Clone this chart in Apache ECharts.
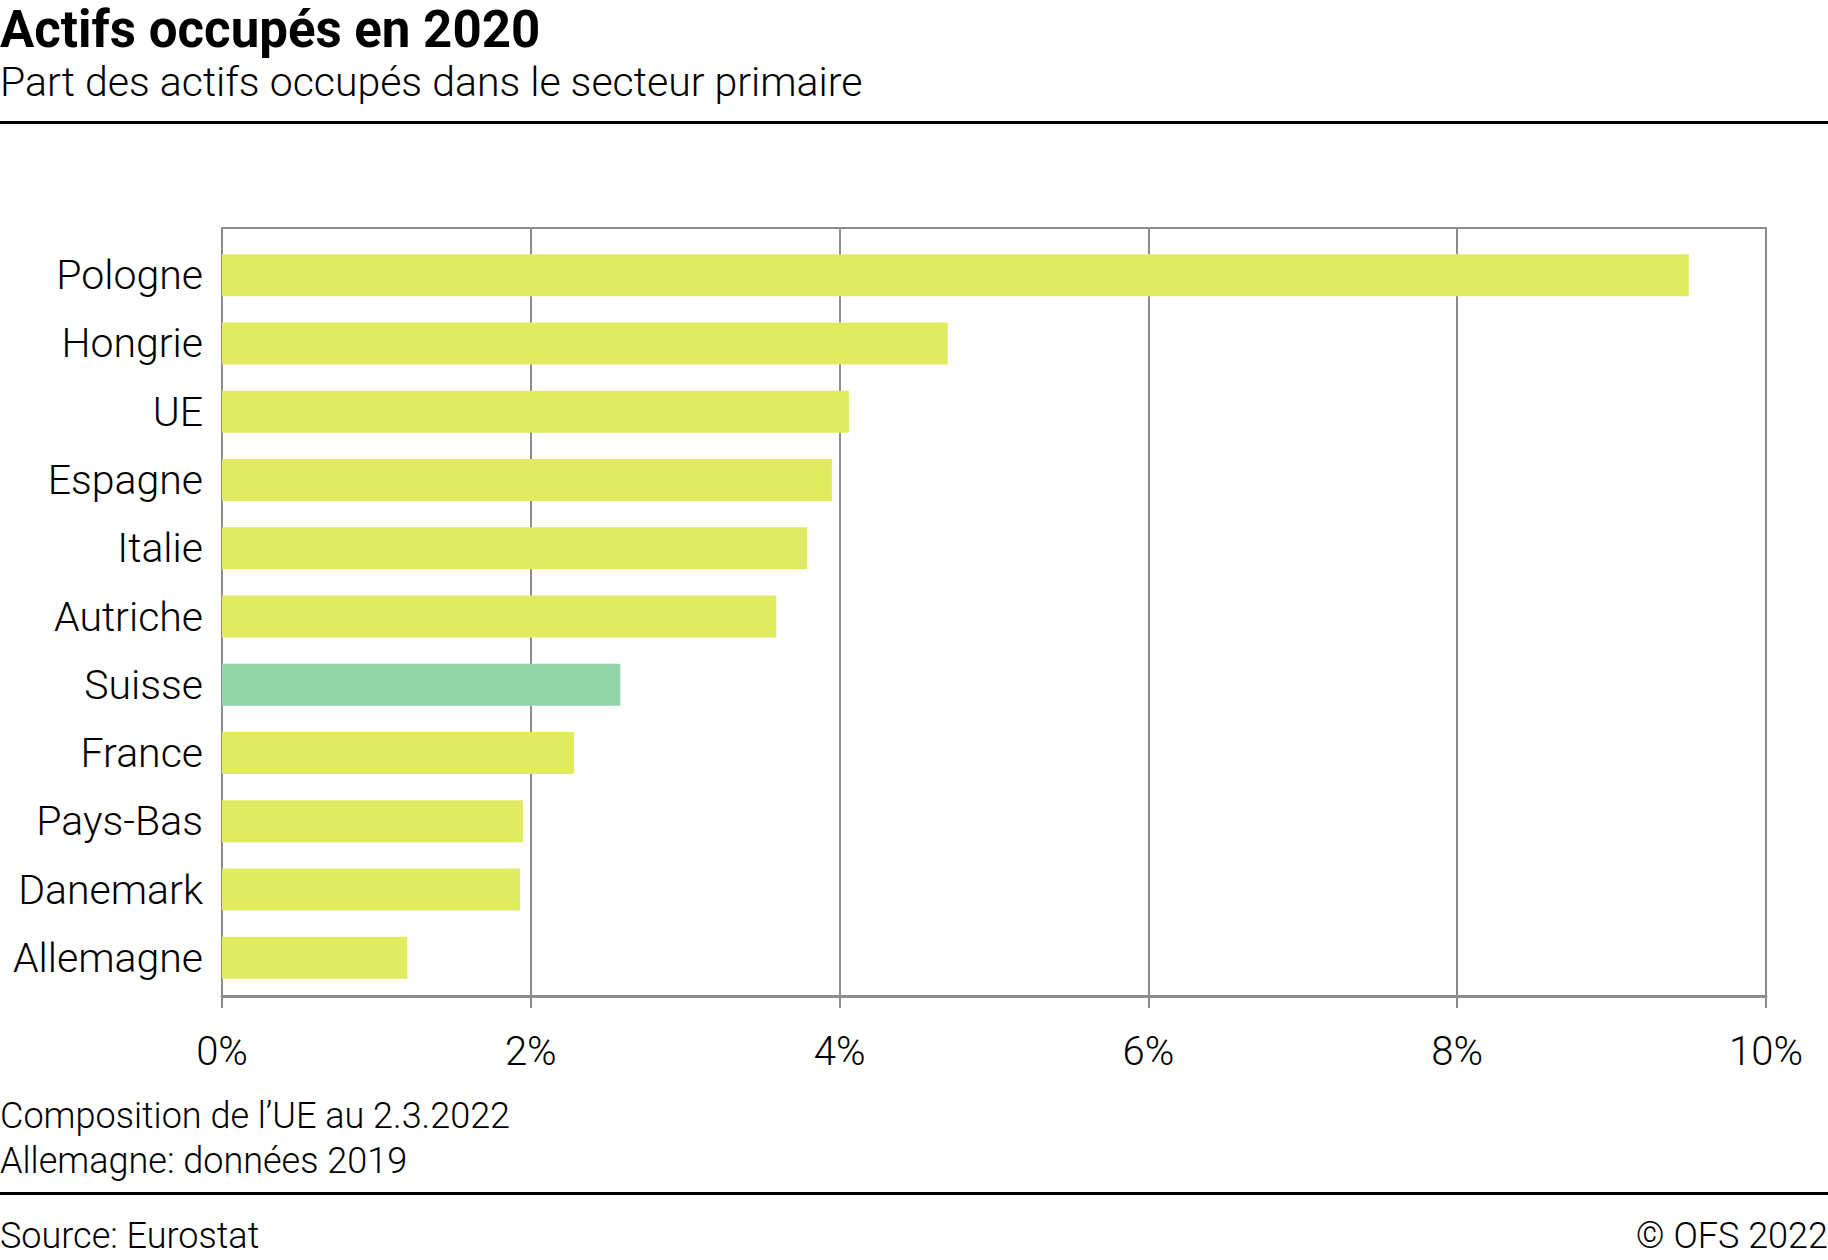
<!DOCTYPE html>
<html>
<head>
<meta charset="utf-8">
<script src="https://cdn.jsdelivr.net/npm/echarts@6/dist/echarts.min.js"></script>
<style>
html,body{margin:0;padding:0;background:#fff;}
#chart{width:1828px;height:1260px;}
</style>
</head>
<body>
<div id="chart"></div>
<script>
const categories = ['Pologne','Hongrie','UE','Espagne','Italie','Autriche','Suisse','France','Pays-Bas','Danemark','Allemagne'];
const values = [9.5, 4.7, 4.06, 3.95, 3.79, 3.59, 2.58, 2.28, 1.95, 1.93, 1.2];
const highlight = 'Suisse';
const titleText = 'Actifs occupés en 2020';
const subtitleText = 'Part des actifs occupés dans le secteur primaire';
const notes = ['Composition de l\u2019UE au 2.3.2022', 'Allemagne: données 2019'];
const sourceText = 'Source: Eurostat';
const copyrightText = '© OFS 2022';

const YELLOW = '#e1eb62';
const GREEN = '#94d4a9';
const LINE = '#8c8c8c';
const FONT = 'Roboto';

const chart = echarts.init(document.getElementById('chart'), null, {renderer: 'svg'});

const axisCommon = {type: 'value', min: 0, max: 10, interval: 2};

const option = {
  animation: false,
  backgroundColor: '#fff',
  grid: {left: 222, right: 62, top: 241, bottom: 268, containLabel: false},
  xAxis: [
    Object.assign({}, axisCommon, {
      position: 'bottom', offset: 4,
      axisLine: {show: true, lineStyle: {color: LINE, width: 3}},
      axisTick: {show: true, length: 12, lineStyle: {color: LINE, width: 2}},
      axisLabel: {formatter: '{value}%', fontFamily: FONT, fontWeight: 300, fontSize: 40, color: '#000', margin: 35},
      splitLine: {show: true, lineStyle: {color: LINE, width: 2}}
    }),
    Object.assign({}, axisCommon, {
      position: 'top', offset: 13,
      axisLine: {show: true, lineStyle: {color: LINE, width: 2}},
      axisTick: {show: true, inside: true, length: 14, lineStyle: {color: LINE, width: 2}},
      axisLabel: {show: false},
      splitLine: {show: false}
    }),
    Object.assign({}, axisCommon, {
      position: 'bottom', offset: 4,
      axisLine: {show: false},
      axisTick: {show: true, inside: true, length: 6, lineStyle: {color: LINE, width: 2}},
      axisLabel: {show: false},
      splitLine: {show: false}
    })
  ],
  yAxis: {
    type: 'category', data: categories, inverse: true,
    axisLine: {show: true, lineStyle: {color: LINE, width: 2}},
    axisTick: {show: false},
    axisLabel: {fontFamily: FONT, fontWeight: 300, fontSize: 41, color: '#000', margin: 19}
  },
  series: [{
    type: 'bar', xAxisIndex: 0, barWidth: 42,
    data: values.map((v, i) => ({value: v, itemStyle: {color: categories[i] === highlight ? GREEN : YELLOW}}))
  }],
  graphic: [
    {type: 'text', left: 0, top: 4, style: {text: titleText, font: 'bold 51px Roboto', fill: '#000'}},
    {type: 'text', left: 0, top: 61, style: {text: subtitleText, font: '300 41px Roboto', fill: '#000'}},
    {type: 'rect', shape: {x: 0, y: 121, width: 1828, height: 3}, style: {fill: '#000'}},
    {type: 'text', left: 0, top: 1098, style: {text: notes[0], font: '300 36px Roboto', fill: '#000'}},
    {type: 'text', left: 0, top: 1143, style: {text: notes[1], font: '300 36px Roboto', fill: '#000'}},
    {type: 'rect', shape: {x: 0, y: 1192, width: 1828, height: 3}, style: {fill: '#000'}},
    {type: 'text', left: 0, top: 1218, style: {text: sourceText, font: '300 36px Roboto', fill: '#000'}},
    {type: 'text', right: 0, top: 1218, style: {text: copyrightText, font: '300 36px Roboto', fill: '#000'}}
  ]
};
chart.setOption(option);
</script>
</body>
</html>
